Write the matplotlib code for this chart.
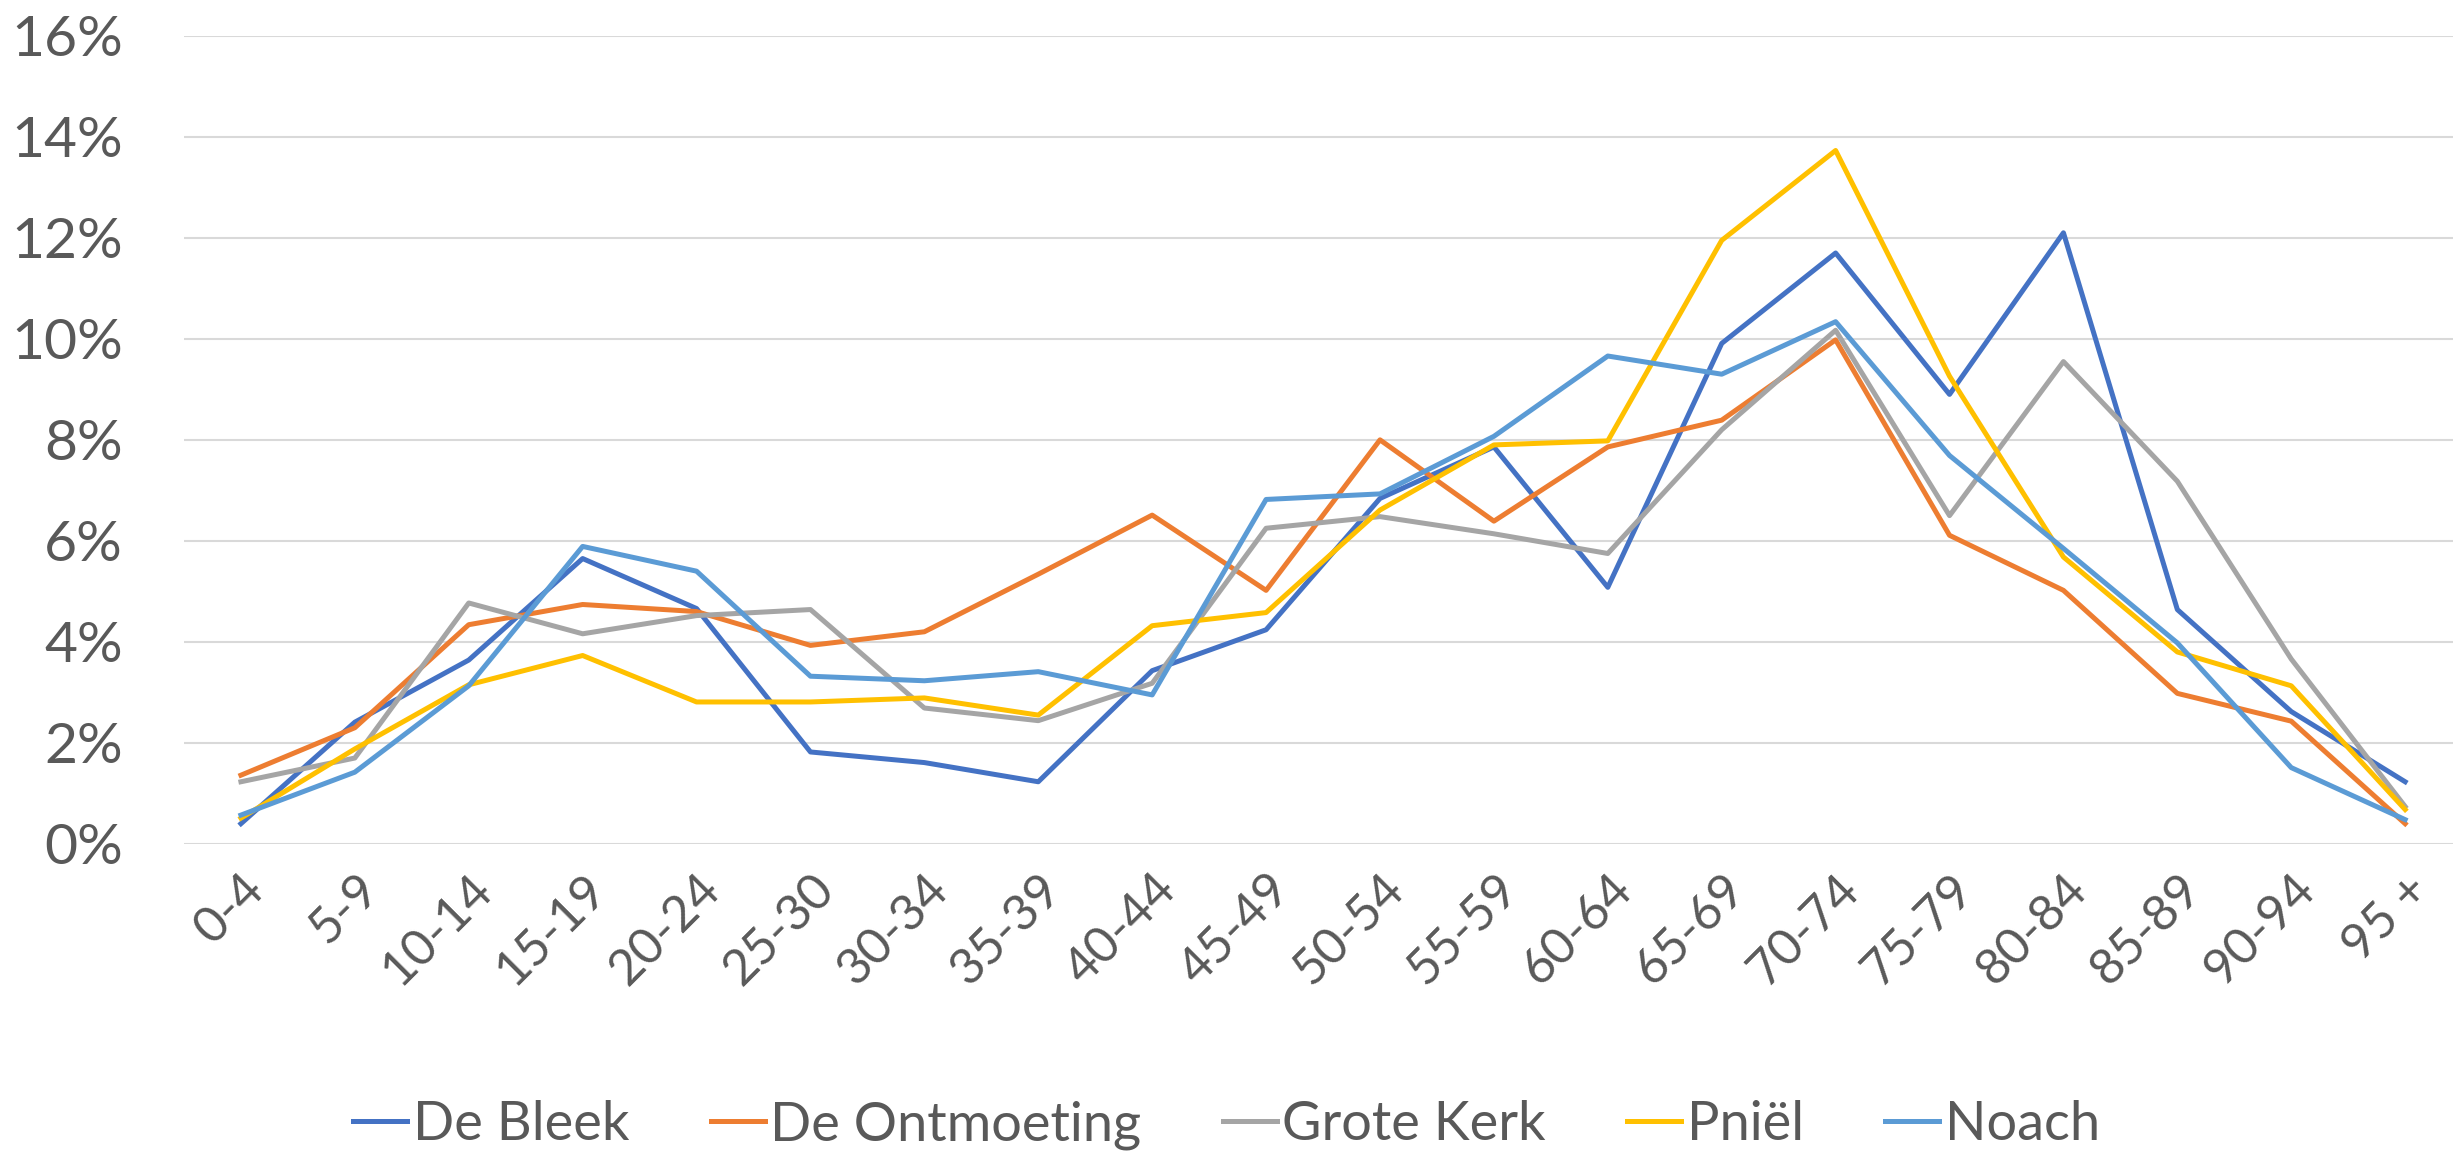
import matplotlib
matplotlib.use("Agg")
import matplotlib.pyplot as plt
from matplotlib.ticker import PercentFormatter

plt.rcParams['font.family'] = ['Lato', 'DejaVu Sans']

age_groups = ["0-4", "5-9", "10-14", "15-19", "20-24", "25-30", "30-34", "35-39", "40-44",
              "45-49", "50-54", "55-59", "60-64", "65-69", "70-74", "75-79", "80-84",
              "85-89", "90-94", "95 +"]

de_bleek = [0.40, 2.41, 3.64, 5.65, 4.66, 1.82, 1.61, 1.23, 3.43, 4.24,
            6.84, 7.86, 5.08, 9.91, 11.70, 8.90, 12.10, 4.64, 2.62, 1.23]
de_ontmoeting = [1.36, 2.30, 4.34, 4.74, 4.60, 3.93, 4.20, 5.34, 6.51, 5.02,
                 8.00, 6.39, 7.86, 8.39, 9.98, 6.11, 5.02, 2.98, 2.43, 0.40]
grote_kerk = [1.23, 1.70, 4.77, 4.16, 4.52, 4.64, 2.69, 2.44, 3.18, 6.25,
              6.48, 6.14, 5.75, 8.20, 10.17, 6.50, 9.55, 7.18, 3.66, 0.74]
pniel = [0.51, 1.88, 3.15, 3.73, 2.81, 2.81, 2.89, 2.55, 4.32, 4.58,
         6.61, 7.90, 7.98, 11.95, 13.73, 9.26, 5.68, 3.80, 3.13, 0.68]
noach = [0.57, 1.42, 3.13, 5.89, 5.40, 3.32, 3.23, 3.41, 2.95, 6.82,
         6.93, 8.07, 9.66, 9.30, 10.34, 7.69, 5.85, 3.98, 1.51, 0.48]

series_names = ["De Bleek", "De Ontmoeting", "Grote Kerk", "Pniël", "Noach"]
colors = ["#4472C4", "#ED7D31", "#A5A5A5", "#FFC000", "#5B9BD5"]

fig = plt.figure(figsize=(24.53, 11.56), dpi=100)
ax = fig.add_axes([0.075, 0.270, 0.925, 0.699])

x = list(range(len(age_groups)))
for vals, name, c in zip([de_bleek, de_ontmoeting, grote_kerk, pniel, noach], series_names, colors):
    ax.plot(x, vals, color=c, lw=3.6, label=name, solid_joinstyle='round')

ax.set_xlim(-0.5, 19.42)
ax.set_ylim(0, 16)
ax.set_yticks(range(0, 17, 2))
ax.yaxis.set_major_formatter(PercentFormatter(decimals=0))
ax.set_xticks(x)
ax.set_xticklabels(age_groups, rotation=45, ha='right', rotation_mode='anchor')
ax.grid(axis='y', color='#D9D9D9', lw=1.5)
ax.set_axisbelow(True)
for s in ax.spines.values():
    s.set_visible(False)
ax.tick_params(axis='both', length=0, colors='#595959')
ax.tick_params(axis='y', labelsize=41, pad=44)
ax.tick_params(axis='x', labelsize=36, pad=16)

fig.legend(loc='center', bbox_to_anchor=(0.5, 0.027), ncol=5, frameon=False,
           fontsize=39, handlelength=1.0, handletextpad=0.1, columnspacing=1.5,
           labelcolor='#595959')

fig.savefig("out.png", dpi=100)
